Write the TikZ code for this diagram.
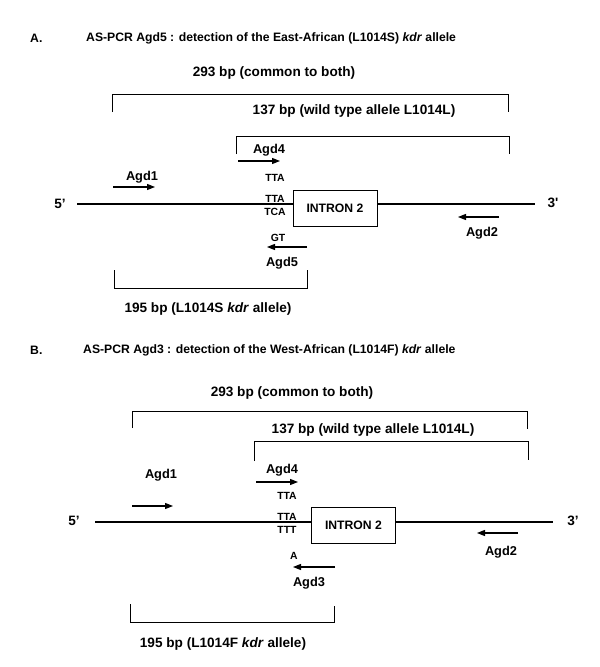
\documentclass[tikz,border=0pt]{standalone}
\usepackage{fontspec}
\setmainfont{Liberation Sans}
\usetikzlibrary{arrows.meta}

\tikzset{
  bp/.style={font=\fontsize{13.6}{16}\selectfont\bfseries, inner sep=1pt},
  head/.style={font=\fontsize{12.2}{14}\selectfont\bfseries, anchor=west, inner sep=0pt},
  codon/.style={font=\fontsize{10.4}{12}\selectfont\bfseries, inner sep=0pt},
  intron/.style={draw, line width=0.8pt, minimum width=84pt, minimum height=36pt,
    font=\fontsize{12.2}{14}\selectfont\bfseries},
  primer/.style={line width=1.2pt, -{Triangle[length=8pt,width=6pt]}},
  strand/.style={line width=2pt},
  bracket/.style={line width=0.8pt},
}

\begin{document}
\begin{tikzpicture}[x=1pt,y=-1pt]
\useasboundingbox (0,0) rectangle (600,667);

% ---- A : Agd5 (East-African L1014S)
\node[head] (labA) at (30,38) {A.};
\node[head] (titA) at (86,38) {AS-PCR Agd5 : detection of the East-African (L1014S) \textit{kdr} allele};

\node[bp] (comA) at (274,73) {293 bp (common to both)};
\draw[bracket] (112,112) |- (508,94) -- (508,112);
\node[bp] (wtA) at (354,111) {137 bp (wild type allele L1014L)};
\draw[bracket] (236,154) |- (509,136) -- (509,154);

\node[bp] (fiveA) at (60,204) {5’};
\node[bp] (threeA) at (553,203) {3\textquotesingle};
\node[intron] (inA) at (335,208) {INTRON 2};
\coordinate (sA) at (77,204);
\coordinate (eA) at (535,204);
\draw[strand] (sA) -- (sA -| inA.west);
\draw[strand] (inA.east |- eA) -- (eA);

\node[codon] (ttaA) at (275,178) {TTA};
\node[codon] (wtcA) at (275,199) {TTA};
\node[codon] (mutA) at (275,212) {TCA};
\node[codon] (gtA) at (278,238) {GT};

% primers
\node[bp, font=\fontsize{12.8}{15}\selectfont\bfseries] (agd1A) at (142,177) {Agd1};
\coordinate (p1A) at (113,187);
\draw[primer] (p1A) -- ++(42,0);
\node[bp, font=\fontsize{12.8}{15}\selectfont\bfseries] (agd4A) at (269,150) {Agd4};
\coordinate (p4A) at (238,161);
\draw[primer] (p4A) -- ++(42,0);
\coordinate (p2A) at (499,217);
\draw[primer] (p2A) -- ++(-41,0);
\node[bp, font=\fontsize{12.8}{15}\selectfont\bfseries] (agd2A) at (482,233) {Agd2};
\coordinate (p5A) at (307,247);
\draw[primer] (p5A) -- ++(-40,0);
\node[bp, font=\fontsize{12.8}{15}\selectfont\bfseries] (agd5A) at (282,263) {Agd5};

\draw[bracket] (114,270) |- (307,288) -- (307,270);
\node[bp] (mutbA) at (208,309) {195 bp (L1014S \textit{kdr} allele)};

% ---- B : Agd3 (West-African L1014F)
\node[head] (labB) at (30,350) {B.};
\node[head] (titB) at (83,350) {AS-PCR Agd3 : detection of the West-African (L1014F) \textit{kdr} allele};

\node[bp] (comB) at (292,393) {293 bp (common to both)};
\draw[bracket] (132,428) |- (527,411) -- (527,429);
\node[bp] (wtB) at (373,430) {137 bp (wild type allele L1014L)};
\draw[bracket] (254,461) |- (528,441) -- (528,460);

\node[bp] (fiveB) at (74,521) {5’};
\node[bp] (threeB) at (573,521) {3’};
\node[intron] (inB) at (353.5,525.5) {INTRON 2};
\coordinate (sB) at (95,522);
\coordinate (eB) at (553,522);
\draw[strand] (sB) -- (sB -| inB.west);
\draw[strand] (inB.east |- eB) -- (eB);

\node[codon] (ttaB) at (287,496) {TTA};
\node[codon] (wtcB) at (287,517) {TTA};
\node[codon] (mutB) at (287,530) {TTT};
\node[codon] (aB) at (294,556) {A};

% primers
\node[bp, font=\fontsize{12.8}{15}\selectfont\bfseries] (agd1B) at (161,475) {Agd1};
\coordinate (p1B) at (132,506);
\draw[primer] (p1B) -- ++(41,0);
\node[bp, font=\fontsize{12.8}{15}\selectfont\bfseries] (agd4B) at (282,470) {Agd4};
\coordinate (p4B) at (256,482);
\draw[primer] (p4B) -- ++(42,0);
\coordinate (p2B) at (518,533);
\draw[primer] (p2B) -- ++(-41,0);
\node[bp, font=\fontsize{12.8}{15}\selectfont\bfseries] (agd2B) at (501,552) {Agd2};
\coordinate (p3B) at (335,567);
\draw[primer] (p3B) -- ++(-42,0);
\node[bp, font=\fontsize{12.8}{15}\selectfont\bfseries] (agd3B) at (309,583) {Agd3};

\draw[bracket] (130,604) |- (334,622) -- (334,606);
\node[bp] (mutbB) at (223,644) {195 bp (L1014F \textit{kdr} allele)};
\end{tikzpicture}
\end{document}
